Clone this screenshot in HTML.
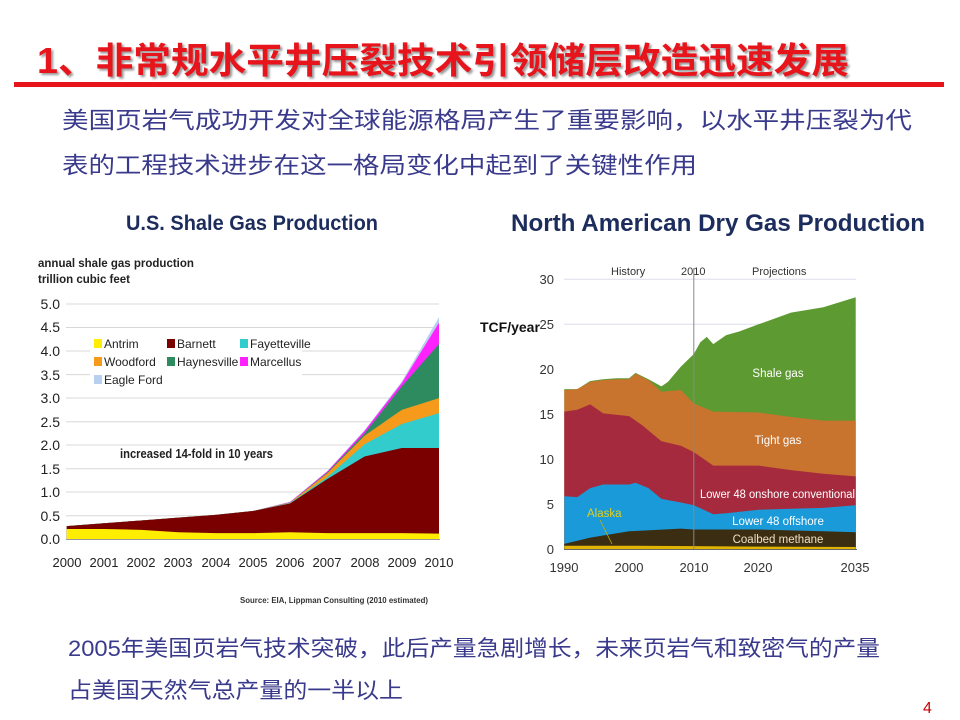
<!DOCTYPE html>
<html><head><meta charset="utf-8"><style>
html,body{margin:0;padding:0;background:#fff;}
svg{display:block;}
text{font-family:"Liberation Sans","Noto Sans CJK SC",sans-serif;}
</style></head><body>
<svg width="960" height="720" viewBox="0 0 960 720" xmlns="http://www.w3.org/2000/svg">
<rect width="960" height="720" fill="#fff"/>
<text x="37" y="73" font-size="36" font-weight="bold" fill="#e8141b" textLength="812" lengthAdjust="spacingAndGlyphs" style="text-shadow:2px 2px 2px #999">1、非常规水平井压裂技术引领储层改造迅速发展</text>
<rect x="14" y="82" width="930" height="5" fill="#e8141b"/>
<text x="62" y="128" font-size="23" fill="#3a3a8c" textLength="850" lengthAdjust="spacingAndGlyphs">美国页岩气成功开发对全球能源格局产生了重要影响，以水平井压裂为代</text>
<text x="62" y="173" font-size="23" fill="#3a3a8c" textLength="635" lengthAdjust="spacingAndGlyphs">表的工程技术进步在这一格局变化中起到了关键性作用</text>

<text x="252" y="230" font-size="21" font-weight="bold" fill="#1c2c5c" text-anchor="middle" textLength="252" lengthAdjust="spacingAndGlyphs">U.S. Shale Gas Production</text>
<text x="38" y="267" font-size="11.5" font-weight="bold" fill="#222">annual shale gas production</text>
<text x="38" y="283" font-size="11.5" font-weight="bold" fill="#222">trillion cubic feet</text>
<g stroke="#d8d8d8" stroke-width="1">
<line x1="66" x2="439" y1="304" y2="304"/><line x1="66" x2="439" y1="327.5" y2="327.5"/>
<line x1="66" x2="439" y1="351" y2="351"/><line x1="66" x2="439" y1="374.6" y2="374.6"/>
<line x1="66" x2="439" y1="398" y2="398"/><line x1="66" x2="439" y1="421.7" y2="421.7"/>
<line x1="66" x2="439" y1="445" y2="445"/><line x1="66" x2="439" y1="468.7" y2="468.7"/>
<line x1="66" x2="439" y1="492" y2="492"/><line x1="66" x2="439" y1="515.8" y2="515.8"/>
</g>
<rect x="90" y="333" width="212" height="58" fill="#fff"/>
<g font-size="14" fill="#222" text-anchor="end">
<text x="60" y="309">5.0</text><text x="60" y="332">4.5</text><text x="60" y="356">4.0</text>
<text x="60" y="380">3.5</text><text x="60" y="403">3.0</text><text x="60" y="427">2.5</text>
<text x="60" y="450">2.0</text><text x="60" y="474">1.5</text><text x="60" y="497">1.0</text>
<text x="60" y="521">0.5</text><text x="60" y="544">0.0</text>
</g>
<g transform="translate(66.7,539.3) scale(37.23,-47.07)">
<polygon fill="#b8d0f0" points="0,0.28 1,0.34 2,0.4 3,0.46 4,0.52 5,0.6 6,0.8 7,1.45 8,2.32 9,3.35 10,4.72 10,0 0,0"/>
<polygon fill="#ff22ff" points="0,0.28 1,0.34 2,0.4 3,0.46 4,0.52 5,0.6 6,0.79 7,1.44 8,2.3 9,3.32 10,4.6 10,0 0,0"/>
<polygon fill="#2e8b5f" points="0,0.28 1,0.34 2,0.4 3,0.46 4,0.52 5,0.6 6,0.78 7,1.42 8,2.25 9,3.25 10,4.15 10,0 0,0"/>
<polygon fill="#f59a1a" points="0,0.28 1,0.34 2,0.4 3,0.46 4,0.52 5,0.6 6,0.78 7,1.4 8,2.2 9,2.75 10,3.0 10,0 0,0"/>
<polygon fill="#33cccc" points="0,0.28 1,0.34 2,0.4 3,0.46 4,0.52 5,0.6 6,0.77 7,1.32 8,2.02 9,2.45 10,2.68 10,0 0,0"/>
<polygon fill="#7a0000" points="0,0.28 1,0.34 2,0.4 3,0.46 4,0.52 5,0.6 6,0.76 7,1.28 8,1.76 9,1.94 10,1.94 10,0 0,0"/>
<polygon fill="#ffee00" points="0,0.22 1,0.22 2,0.2 3,0.15 4,0.13 5,0.13 6,0.15 7,0.13 8,0.13 9,0.13 10,0.12 10,0 0,0"/>
</g>
<line x1="66" x2="440" y1="539.5" y2="539.5" stroke="#999" stroke-width="1"/>
<g font-size="13" fill="#222" text-anchor="middle">
<text x="67" y="567">2000</text><text x="104" y="567">2001</text><text x="141" y="567">2002</text>
<text x="178" y="567">2003</text><text x="216" y="567">2004</text><text x="253" y="567">2005</text>
<text x="290" y="567">2006</text><text x="327" y="567">2007</text><text x="365" y="567">2008</text>
<text x="402" y="567">2009</text><text x="439" y="567">2010</text>
</g>
<g font-size="12" fill="#222">
<rect x="94" y="339" width="8" height="9" fill="#ffee00"/><text x="104" y="348">Antrim</text>
<rect x="167" y="339" width="8" height="9" fill="#7a0000"/><text x="177" y="348">Barnett</text>
<rect x="240" y="339" width="8" height="9" fill="#33cccc"/><text x="250" y="348">Fayetteville</text>
<rect x="94" y="357" width="8" height="9" fill="#f59a1a"/><text x="104" y="366">Woodford</text>
<rect x="167" y="357" width="8" height="9" fill="#2e8b5f"/><text x="177" y="366">Haynesville</text>
<rect x="240" y="357" width="8" height="9" fill="#ff22ff"/><text x="250" y="366">Marcellus</text>
<rect x="94" y="375" width="8" height="9" fill="#b8d0f0"/><text x="104" y="384">Eagle Ford</text>
</g>
<text x="120" y="458" font-size="13" font-weight="bold" fill="#222" textLength="153" lengthAdjust="spacingAndGlyphs">increased 14-fold in 10 years</text>
<text x="240" y="603" font-size="8" font-weight="bold" fill="#333" textLength="188" lengthAdjust="spacingAndGlyphs">Source: EIA, Lippman Consulting (2010 estimated)</text>

<text x="718" y="231" font-size="24" font-weight="bold" fill="#1c2c5c" text-anchor="middle" textLength="414" lengthAdjust="spacingAndGlyphs">North American Dry Gas Production</text>
<line x1="564" x2="856" y1="279.3" y2="279.3" stroke="#dde" stroke-width="1"/>
<line x1="564" x2="856" y1="324.3" y2="324.3" stroke="#dde" stroke-width="1"/>
<g transform="translate(564.3,549.3) scale(6.476,-9)">
<polygon fill="#5e9a32" points="0,17.8 2,17.8 4,18.7 6,18.9 8,19 10,19 11,19.6 13,18.9 15,18.1 16,18.6 18,20.3 20,21.7 21,23.0 22,23.6 23,22.8 25,23.8 27,24.2 30,25.0 35,26.3 40,26.9 45,28.0 45,0 0,0"/>
<polygon fill="#c8732e" points="0,17.7 2,17.8 4,18.6 6,18.8 8,18.9 10,18.9 11,19.5 13,18.8 15,17.5 18,17.7 20,16.2 23,15.3 30,15.2 35,14.7 40,14.3 45,14.3 45,0 0,0"/>
<polygon fill="#a52a3e" points="0,15.3 2,15.5 4,16.1 6,15.1 10,14.8 12,13.8 15,12.0 18,11.5 20,10.8 23,9.3 30,9.3 35,8.8 40,8.4 45,8.1 45,0 0,0"/>
<polygon fill="#1a9ad8" points="0,5.9 2,5.8 4,6.8 6,7.2 10,7.2 11,7.4 13,6.8 15,5.6 18,5.2 20,4.9 23,3.9 25,4.0 30,4.4 35,4.5 40,4.6 45,4.9 45,0 0,0"/>
<polygon fill="#3a2d12" points="0,0.6 4,1.3 10,2.0 18,2.3 20,2.2 30,2.2 40,2.0 45,1.9 45,0 0,0"/>
<polygon fill="#e0b400" points="0,0.4 10,0.4 20,0.35 30,0.3 45,0.25 45,0 0,0"/>
</g>
<line x1="693.8" x2="693.8" y1="268" y2="549" stroke="#888" stroke-width="1"/>
<line x1="564" x2="857" y1="549.5" y2="549.5" stroke="#666" stroke-width="1"/>
<line x1="600" x2="612" y1="520" y2="544" stroke="#c8b400" stroke-width="0.8"/>
<g font-size="11" fill="#333">
<text x="611" y="275">History</text><text x="681" y="275">2010</text><text x="752" y="275">Projections</text>
</g>
<text x="480" y="332" font-size="14" font-weight="bold" fill="#111">TCF/year</text>
<g font-size="13" fill="#333" text-anchor="end">
<text x="554" y="284">30</text><text x="554" y="329">25</text><text x="554" y="374">20</text>
<text x="554" y="419">15</text><text x="554" y="464">10</text><text x="554" y="509">5</text><text x="554" y="554">0</text>
</g>
<g font-size="13" fill="#333" text-anchor="middle">
<text x="564" y="572">1990</text><text x="629" y="572">2000</text><text x="694" y="572">2010</text>
<text x="758" y="572">2020</text><text x="855" y="572">2035</text>
</g>
<g font-size="11.5" fill="#fff">
<text x="778" y="377" text-anchor="middle">Shale gas</text>
<text x="778" y="444" text-anchor="middle">Tight gas</text>
<text x="700" y="498" textLength="155" lengthAdjust="spacingAndGlyphs">Lower 48 onshore conventional</text>
<text x="778" y="525" text-anchor="middle">Lower 48 offshore</text>
<text x="778" y="543" text-anchor="middle" fill="#f0e0c0">Coalbed methane</text>
<text x="587" y="517" fill="#e0d020">Alaska</text>
</g>

<text x="68" y="656" font-size="22" fill="#3a3a8c" textLength="812" lengthAdjust="spacingAndGlyphs">2005年美国页岩气技术突破，此后产量急剧增长，未来页岩气和致密气的产量</text>
<text x="68" y="698" font-size="22" fill="#3a3a8c" textLength="335" lengthAdjust="spacingAndGlyphs">占美国天然气总产量的一半以上</text>
<text x="923" y="713" font-size="16" fill="#c00">4</text>
</svg>
</body></html>
